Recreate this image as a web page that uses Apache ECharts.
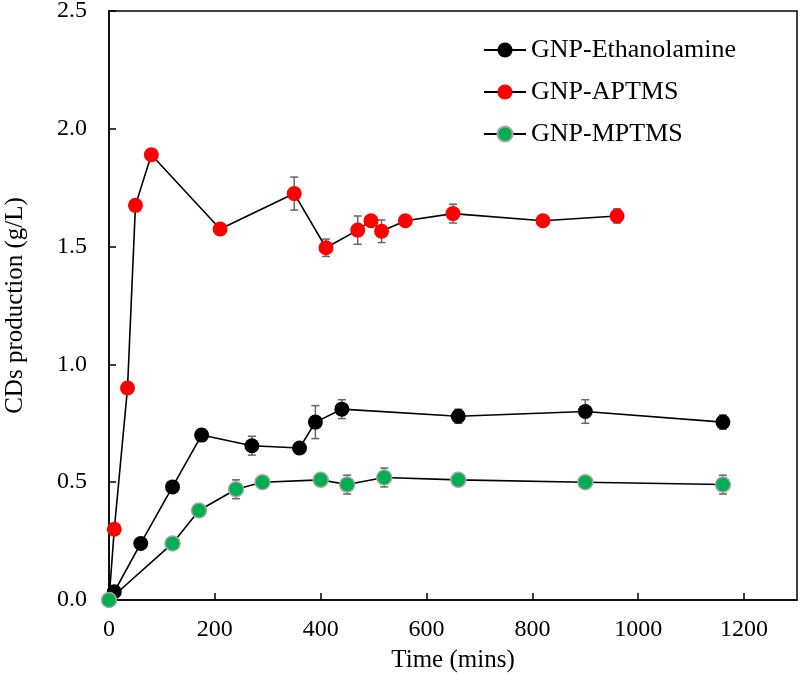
<!DOCTYPE html>
<html>
<head>
<meta charset="utf-8">
<script src="https://cdn.jsdelivr.net/npm/echarts@6/dist/echarts.min.js"></script>
<style>
  html, body { margin: 0; padding: 0; background: #fff; }
  #chart { width: 800px; height: 682px; }
</style>
</head>
<body>
<div id="chart"></div>
<script>
// 时间 (mins) / 产量 (g/L) / 误差
const ethTime = [0, 10, 60, 120, 175, 270, 360, 390, 440, 660, 900, 1160]
const ethValue = [0, 0.035, 0.24, 0.48, 0.70, 0.655, 0.645, 0.755, 0.81, 0.78, 0.80, 0.755]
const ethErr = [0, 0, 0, 0, 0.025, 0.04, 0, 0.07, 0.04, 0.03, 0.05, 0.03]

const aptTime = [0, 10, 35, 50, 80, 210, 350, 410, 470, 495, 515, 560, 650, 820, 960]
const aptValue = [0, 0.30, 0.90, 1.675, 1.89, 1.575, 1.725, 1.495, 1.57, 1.61, 1.565, 1.61, 1.64, 1.61, 1.63]
const aptErr = [0, 0, 0, 0, 0, 0, 0.07, 0.037, 0.06, 0, 0.048, 0, 0.04, 0, 0.03]

const mpTime = [0, 120, 170, 240, 290, 400, 450, 520, 660, 900, 1160]
const mpValue = [0, 0.24, 0.38, 0.47, 0.50, 0.51, 0.49, 0.52, 0.51, 0.50, 0.49]
const mpErr = [0, 0, 0, 0.04, 0.02, 0, 0.04, 0.04, 0.02, 0, 0.04]

const seriesNames = ['GNP-Ethanolamine', 'GNP-APTMS', 'GNP-MPTMS']
const xTicks = [0, 200, 400, 600, 800, 1000, 1200]
const yTicks = [0.0, 0.5, 1.0, 1.5, 2.0, 2.5]

const font = "'Liberation Serif', 'Times New Roman', serif"

function pairs(xs, ys) {
  return xs.map((x, i) => [x, ys[i]])
}
function triples(xs, ys, es) {
  return xs.map((x, i) => [x, ys[i], es[i]])
}

// 误差棒
function renderErr(params, api) {
  const x = api.value(0)
  const y = api.value(1)
  const e = api.value(2)
  if (!e) return null
  const top = api.coord([x, y + e])
  const bot = api.coord([x, y - e])
  const hw = 4
  const style = { stroke: '#666', lineWidth: 1.5 }
  return {
    type: 'group',
    children: [
      { type: 'line', shape: { x1: top[0], y1: top[1], x2: bot[0], y2: bot[1] }, style },
      { type: 'line', shape: { x1: top[0] - hw, y1: top[1], x2: top[0] + hw, y2: top[1] }, style },
      { type: 'line', shape: { x1: bot[0] - hw, y1: bot[1], x2: bot[0] + hw, y2: bot[1] }, style }
    ]
  }
}

function errSeries(data) {
  return {
    type: 'custom',
    renderItem: renderErr,
    data: data,
    encode: { x: 0, y: 1 },
    z: 1,
    silent: true
  }
}

function lineSeries(name, data, color, border) {
  return {
    name: name,
    type: 'line',
    data: data,
    symbol: 'circle',
    symbolSize: 15,
    showAllSymbol: true,
    z: 3,
    lineStyle: { color: '#000', width: 1.6 },
    itemStyle: {
      color: color,
      borderColor: border || color,
      borderWidth: border ? 1.5 : 0
    }
  }
}

const chart = echarts.init(document.getElementById('chart'))
chart.setOption({
  animation: false,
  backgroundColor: '#fff',
  textStyle: { fontFamily: font },
  grid: {
    left: 109,
    right: 3,
    top: 11,
    bottom: 82,
    outerBoundsMode: 'none',
    containLabel: false,
    show: true,
    borderColor: '#000',
    borderWidth: 1.5
  },
  legend: {
    data: seriesNames,
    orient: 'vertical',
    left: 478,
    top: 32,
    itemWidth: 42,
    itemHeight: 19,
    itemGap: 16,
    textStyle: { fontFamily: font, fontSize: 26, color: '#000', lineHeight: 26 }
  },
  xAxis: {
    type: 'value',
    min: 0,
    max: 1300,
    interval: 200,
    name: 'Time (mins)',
    nameLocation: 'middle',
    nameGap: 48,
    nameTextStyle: { fontFamily: font, fontSize: 25, color: '#000' },
    axisLine: { lineStyle: { color: '#000', width: 1.5 } },
    axisTick: { inside: true, length: 7, lineStyle: { color: '#000', width: 1.5 } },
    axisLabel: {
      fontFamily: font, fontSize: 24, color: '#000', margin: 18,
      showMaxLabel: false,
      formatter: v => (xTicks.indexOf(v) >= 0 ? String(v) : '')
    },
    splitLine: { show: false }
  },
  yAxis: {
    type: 'value',
    min: 0,
    max: 2.5,
    interval: 0.5,
    name: 'CDs production (g/L)',
    nameLocation: 'middle',
    nameGap: 81,
    nameTextStyle: { fontFamily: font, fontSize: 25, color: '#000' },
    axisLine: { lineStyle: { color: '#000', width: 1.5 } },
    axisTick: { inside: true, length: 7, lineStyle: { color: '#000', width: 1.5 } },
    axisLabel: {
      fontFamily: font, fontSize: 24, color: '#000', margin: 22,
      formatter: v => (yTicks.indexOf(v) >= 0 ? v.toFixed(1) : '')
    },
    splitLine: { show: false }
  },
  series: [
    errSeries(triples(ethTime, ethValue, ethErr)),
    errSeries(triples(aptTime, aptValue, aptErr)),
    errSeries(triples(mpTime, mpValue, mpErr)),
    lineSeries(seriesNames[0], pairs(ethTime, ethValue), '#000000'),
    lineSeries(seriesNames[1], pairs(aptTime, aptValue), '#ff0000'),
    lineSeries(seriesNames[2], pairs(mpTime, mpValue), '#00b050', '#a6a6a6')
  ]
})
</script>
</body>
</html>
